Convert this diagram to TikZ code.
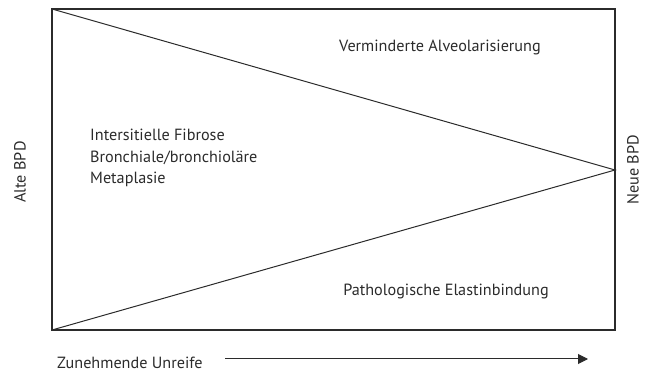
\documentclass[tikz,border=0pt]{standalone}
\usepackage{fontspec}
\setmainfont{PT Sans}
\usetikzlibrary{arrows.meta}
\definecolor{ink}{HTML}{2B2B2B}
\begin{document}
\begin{tikzpicture}[x=1pt,y=-1pt,
  lbl/.style={font=\fontsize{16.2}{21.5}\selectfont, text=ink, inner sep=0pt},
  frame/.style={draw=ink, line width=2.2pt},
  thin/.style={draw=ink, line width=1pt}]
\useasboundingbox (0,0) rectangle (646,374);
\coordinate (tl) at (52,9);
\coordinate (br) at (615,330);
\coordinate (bl) at (52,330);
\coordinate (apex) at (615,170);
\draw[frame] (tl) rectangle (br);
\draw[thin] (tl) -- (apex) -- (bl);
\node[lbl] (verm) at (440,47) {Verminderte Alveolarisierung};
\node[lbl] (path) at (446,291) {Pathologische Elastinbindung};
\node[lbl, anchor=west, align=left] (fib) at (90,158) {Intersitielle Fibrose\\Bronchiale/bronchioläre\\Metaplasie};
\node[lbl, rotate=90] (alte) at (20,172) {Alte BPD};
\node[lbl, rotate=90] (neue) at (633,170) {Neue BPD};
\node[lbl, anchor=west] (zun) at (57,363) {Zunehmende Unreife};
\coordinate (as) at (225,359);
\coordinate (ae) at (588,359);
\draw[thin, -{Triangle[length=10pt,width=10pt]}] (as) -- (ae);
\end{tikzpicture}
\end{document}
